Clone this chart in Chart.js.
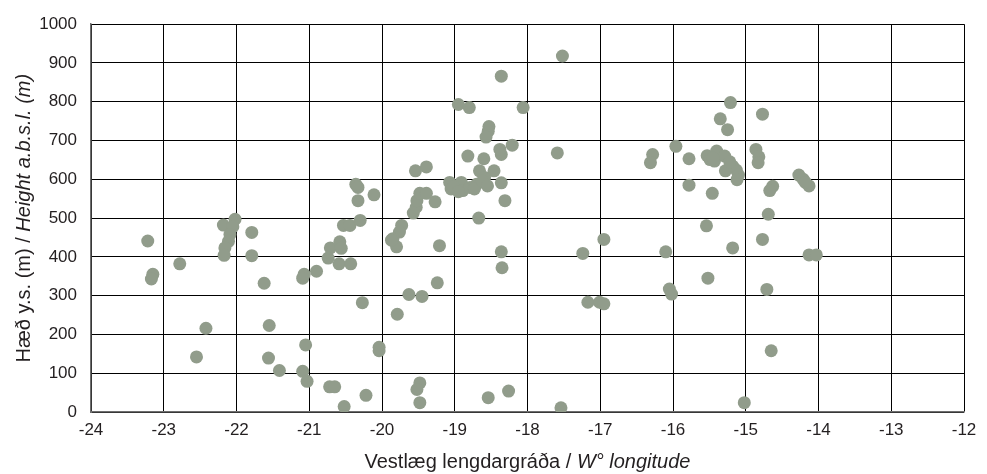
<!DOCTYPE html>
<html>
<head>
<meta charset="utf-8">
<script src="https://cdn.jsdelivr.net/npm/chart.js@4/dist/chart.umd.min.js"></script>
<style>
  html, body { margin: 0; padding: 0; background: #ffffff; }
  #wrap { width: 987px; height: 474px; position: relative; }
</style>
</head>
<body>
<div id="wrap"><canvas id="c"></canvas></div>
<script>
// Longitude (°, negative = west) and height above sea level (m)
const longitudes = [
  -23.22, -23.15, -23.17, -22.78, -22.42, -22.55, -22.18, -22.02, -22.05, -22.09,
  -22.11, -22.16, -22.17, -21.79, -21.79, -21.62, -21.55, -21.56, -21.41, -21.09,
  -21.03, -21.05, -21.07, -21.09, -20.90, -20.74, -20.71, -20.58, -20.56, -20.59,
  -20.43, -20.53, -20.44, -20.30, -20.33, -20.36, -20.33, -20.11, -20.27, -19.79,
  -19.63, -19.45, -19.24, -20.04, -20.04, -20.72, -20.65, -20.52, -20.22, -19.48,
  -19.52, -19.48, -18.54, -18.26, -17.54, -19.73, -19.76, -19.85, -19.80, -19.87,
  -19.57, -19.53, -19.52, -19.48, -19.39, -19.27, -19.54, -19.39, -19.21, -19.07,
  -19.05, -18.91, -18.89, -18.79, -18.70, -18.66, -18.59, -18.60, -18.82, -18.36,
  -18.46, -18.31, -18.67, -18.36, -18.35, -18.36, -17.52, -18.36, -18.95, -18.80,
  -18.06, -18.53, -18.54, -18.57, -18.21, -18.38, -17.59, -19.02, -18.95, -18.73,
  -18.62, -18.55,
  -17.24, -17.17, -17.01, -16.95, -16.95, -16.10, -16.05, -16.02, -15.52, -15.54,
  -15.18, -14.77, -14.71, -14.65, -15.02, -14.13, -14.03, -15.21, -14.77, -15.35,
  -15.25, -15.96, -16.28, -16.31, -15.78, -15.53, -15.40, -15.49, -15.43, -15.29,
  -15.18, -15.13, -15.28, -15.10, -15.12, -14.86, -14.82, -14.83, -15.78, -15.46,
  -14.63, -14.67, -14.27, -14.21, -14.13, -14.18, -14.69, -15.45, -15.22
];
const heights = [
  441, 355, 343, 382, 216, 142, 482, 497, 478, 458,
  440, 423, 404, 463, 403, 332, 223, 139, 107, 105,
  79, 173, 355, 345, 363, 397, 423, 439, 422, 382,
  382, 481, 481, 494, 545, 587, 579, 560, 282, 252,
  303, 298, 333, 167, 158, 65, 65, 14, 43, 75,
  58, 24, 37, 54, 11, 481, 464, 447, 426, 443,
  513, 528, 545, 564, 564, 542, 622, 632, 429, 592,
  575, 592, 571, 579, 587, 622, 605, 653, 660, 591,
  622, 545, 500, 413, 372, 664, 918, 866, 793, 785,
  785, 736, 724, 709, 688, 677, 668, 580, 568, 575,
  595, 583,
  409, 283, 283, 279, 445, 413, 317, 304, 345, 480,
  423, 445, 316, 158, 24, 405, 405, 798, 768, 756,
  728, 685, 664, 643, 653, 661, 673, 651, 647, 660,
  634, 624, 622, 611, 599, 677, 658, 643, 585, 564,
  582, 571, 611, 600, 583, 592, 510, 655, 645
];
const xTicks = [-24, -23, -22, -21, -20, -19, -18, -17, -16, -15, -14, -13, -12];
const yTicks = [0, 100, 200, 300, 400, 500, 600, 700, 800, 900, 1000];
const yTitleParts = [["Hæð y.s. (m) / ", "normal"], ["Height a.b.s.l. (m)", "italic"]];
const xTitleParts = [["Vestlæg lengdargráða / ", "normal"], ["W° longitude", "italic"]];

const points = longitudes.map((x, i) => ({ x: x, y: heights[i] }));
const FONT = "'Liberation Sans', Arial, Helvetica, sans-serif";
const TEXT = '#231f20';

function drawParts(ctx, parts, size) {
  let total = 0;
  parts.forEach(p => { ctx.font = p[1] + " " + size + "px " + FONT; total += ctx.measureText(p[0]).width; });
  let pos = -total / 2;
  parts.forEach(p => {
    ctx.font = p[1] + " " + size + "px " + FONT;
    ctx.fillText(p[0], pos, 0);
    pos += ctx.measureText(p[0]).width;
  });
}

const titlePlugin = {
  id: 'mixedTitles',
  afterDraw(chart) {
    const ctx = chart.ctx;
    const a = chart.chartArea;
    ctx.save();
    ctx.fillStyle = TEXT;
    ctx.textAlign = 'left';
    ctx.textBaseline = 'alphabetic';
    ctx.translate((a.left + a.right) / 2, 468);
    drawParts(ctx, xTitleParts, 20);
    ctx.restore();
    ctx.save();
    ctx.fillStyle = TEXT;
    ctx.textAlign = 'left';
    ctx.textBaseline = 'alphabetic';
    ctx.translate(30, (a.top + a.bottom) / 2);
    ctx.rotate(-Math.PI / 2);
    drawParts(ctx, yTitleParts, 20);
    ctx.restore();
  }
};

new Chart(document.getElementById('c'), {
  type: 'scatter',
  data: {
    datasets: [{
      data: points,
      backgroundColor: '#919c8b',
      borderWidth: 0,
      pointRadius: 6.5,
      pointHoverRadius: 6.5
    }]
  },
  options: {
    responsive: true,
    maintainAspectRatio: false,
    animation: false,
    layout: { padding: { top: 20, right: 23, left: 0, bottom: 0 } },
    plugins: { legend: { display: false }, tooltip: { enabled: false } },
    scales: {
      x: {
        type: 'linear',
        min: -24, max: -12,
        afterBuildTicks: s => { s.ticks = xTicks.map(v => ({ value: v })); },
        afterFit: s => { s.height = 62; },
        ticks: { color: TEXT, font: { family: FONT, size: 17 }, padding: 8, maxRotation: 0, autoSkip: false,
                 callback: v => String(v) },
        grid: { color: '#000000', lineWidth: 1, drawTicks: false },
        border: { color: '#6e6e6e', width: 1.5 }
      },
      y: {
        type: 'linear',
        min: 0, max: 1000,
        afterBuildTicks: s => { s.ticks = yTicks.map(v => ({ value: v })); },
        afterFit: s => { s.width = 91; },
        ticks: { color: TEXT, font: { family: FONT, size: 17 }, padding: 14, autoSkip: false,
                 callback: v => String(v) },
        grid: { color: '#000000', lineWidth: 1, drawTicks: false },
        border: { color: '#6e6e6e', width: 1.5 }
      }
    }
  },
  plugins: [titlePlugin]
});
</script>
</body>
</html>
